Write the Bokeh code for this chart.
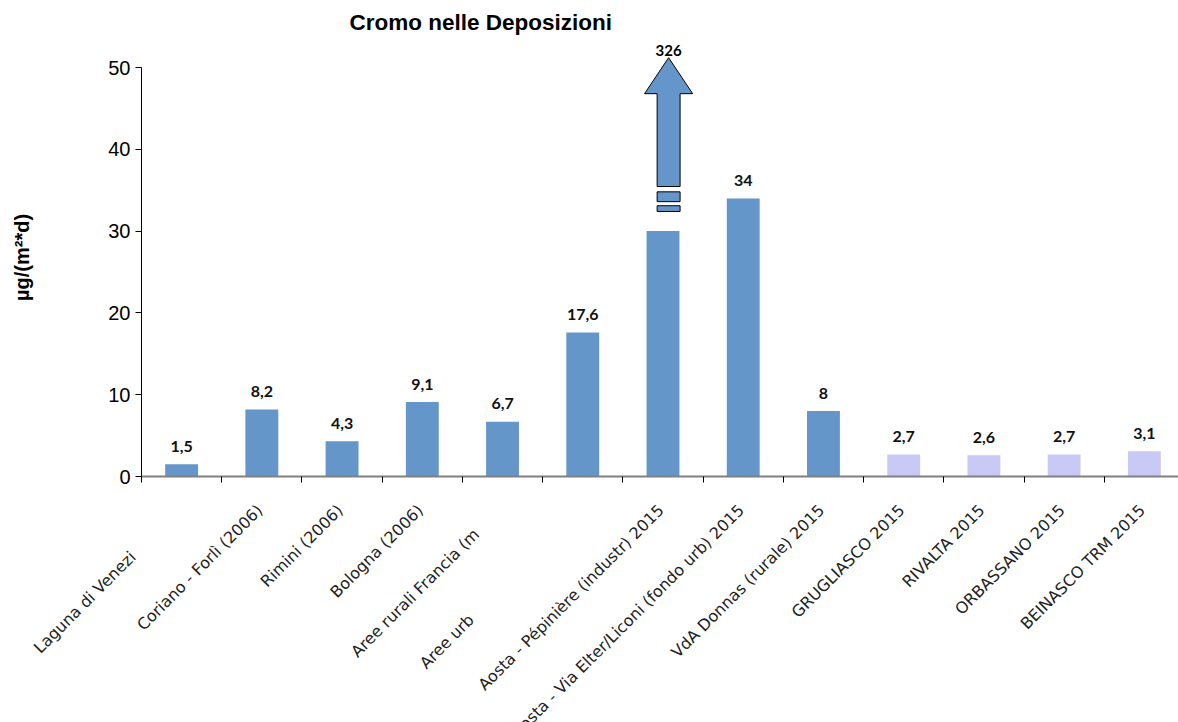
import math
from bokeh.plotting import figure
from bokeh.layouts import column
from bokeh.models import FixedTicker, Range1d
from bokeh.core.properties import value
from bokeh.embed import file_html
from bokeh.resources import INLINE

# ---- data -------------------------------------------------------------
sites = ["Laguna di Venezi", "Coriano - Forlì (2006)", "Rimini (2006)", "Bologna (2006)",
         "Aree rurali Francia (m", "Aree urb", "Aosta - Pépinière (industr) 2015",
         "Aosta - Via Elter/Liconi (fondo urb) 2015", "VdA Donnas (rurale) 2015",
         "GRUGLIASCO 2015", "RIVALTA 2015", "ORBASSANO 2015", "BEINASCO TRM 2015"]
chromium = [1.5, 8.2, 4.3, 9.1, 6.7, 17.6, 326, 34, 8, 2.7, 2.6, 2.7, 3.1]
is_2015_to = [False] * 9 + [True] * 4
y_ticks = [0, 10, 20, 30, 40, 50]
broken_bar_top = 30          # the off-scale bar is cut here
title_text = "Cromo nelle Deposizioni"
y_label = "µg/(m²*d)"

# style: how far (px, along the text) each clipped category label is pushed back
label_pushback = [66, 0, 0, 0, 34, 155, 0, 0, 0, 0, 0, 0, 0]

# ---- derived ----------------------------------------------------------
n = len(sites)
centers = [i + 1 for i in range(n)]
bounds = [i + 0.5 for i in range(n + 1)]
heights = [min(v, broken_bar_top) if v > 50 else v for v in chromium]
colors = ["#C9C9F6" if t else "#6596C9" for t in is_2015_to]
labels = [f"{v:g}".replace(".", ",") for v in chromium]
normal_idx = [i for i, v in enumerate(chromium) if v <= 50]
broken_idx = [i for i, v in enumerate(chromium) if v > 50]

px_per_cat = 80.23
px_per_unit = 8.18
W, H = 1178, 722
left, top = 141, 38
zero_y = 476                 # page row of the value 0
axis_band = 14               # room under the axis in the main figure
frame_w = W - left
frame_h = zero_y - top
x0 = 0.5

# ---- main chart -------------------------------------------------------
p = figure(width=W, height=zero_y + axis_band,
           x_range=Range1d(x0, x0 + frame_w / px_per_cat),
           y_range=Range1d(0, frame_h / px_per_unit),
           output_backend="svg", toolbar_location=None,
           min_border_left=left, min_border_right=0,
           min_border_top=top, min_border_bottom=axis_band)
p.frame_align = False
p.outline_line_color = None
p.xgrid.grid_line_color = None
p.ygrid.grid_line_color = None
p.background_fill_color = "white"
p.border_fill_color = "white"

p.title.text = title_text
p.title.align = "left"
p.title.offset = 208
p.title.text_font = "Liberation Sans"
p.title.text_font_style = "bold"
p.title.text_font_size = "22.5px"
p.title.text_color = "black"
p.title.standoff = 8

p.vbar(x=centers, top=heights, width=0.41, fill_color=colors, line_color=None)

for i in broken_idx:
    c = centers[i] + 0.07
    hs, hh = 0.143, 0.30
    b0, base, tip = 35.45, 46.8, 51.2
    p.patch([c - hs, c - hs, c - hh, c, c + hh, c + hs, c + hs],
            [b0, base, base, tip, base, base, b0],
            fill_color="#6596C9", line_color="black", line_width=1)
    p.quad(left=[c - hs, c - hs], right=[c + hs, c + hs],
           bottom=[33.6, 32.4], top=[34.8, 33.1],
           fill_color="#6596C9", line_color="black", line_width=1)
    p.text(x=[c], y=[tip], text=[labels[i]], text_align="center",
           text_baseline="alphabetic", y_offset=-7,
           text_font=value("Lato"), text_font_style="bold", text_font_size="15px",
           text_color="black")

p.text(x=[centers[i] for i in normal_idx], y=[heights[i] for i in normal_idx],
       text=[labels[i] for i in normal_idx], text_align="center",
       text_baseline="alphabetic", y_offset=-18,
       text_font=value("Lato"), text_font_style="bold", text_font_size="16px",
       text_color="#111111")

xa = p.xaxis[0]
xa.ticker = FixedTicker(ticks=centers, minor_ticks=bounds)
xa.major_label_overrides = {c: "" for c in centers}
xa.major_label_text_font_size = "1px"
xa.major_label_standoff = 0
xa.major_tick_out = 0
xa.major_tick_in = 0
xa.minor_tick_out = 6
xa.minor_tick_in = 0
xa.minor_tick_line_color = "black"
xa.axis_line_color = "#808080"
xa.axis_line_width = 2

ya = p.yaxis[0]
ya.ticker = FixedTicker(ticks=y_ticks)
ya.bounds = (0, 50)
ya.minor_tick_line_color = None
ya.major_tick_out = 6
ya.major_tick_in = 0
ya.axis_line_color = "black"
ya.major_tick_line_color = "black"
ya.major_label_text_font = "Liberation Sans"
ya.major_label_text_font_size = "20px"
ya.major_label_text_color = "black"
ya.major_label_standoff = 5
ya.axis_label = y_label
ya.axis_label_text_font = "Liberation Sans"
ya.axis_label_text_font_style = "bold"
ya.axis_label_text_font_size = "20px"
ya.axis_label_text_color = "black"
ya.axis_label_standoff = 72

# ---- category-name strip under the chart (same x scale) ---------------
strip_h = H - zero_y - axis_band
xs0 = x0 - left / px_per_cat
q = figure(width=W, height=strip_h,
           x_range=Range1d(xs0, xs0 + W / px_per_cat),
           y_range=Range1d(-(H - zero_y) / px_per_unit, -axis_band / px_per_unit),
           output_backend="svg", toolbar_location=None,
           min_border=0)
q.frame_align = False
q.outline_line_color = None
q.xaxis.visible = False
q.yaxis.visible = False
q.xgrid.grid_line_color = None
q.ygrid.grid_line_color = None
q.background_fill_color = "white"
q.border_fill_color = "white"

diag = math.sqrt(0.5)
label_y = -31 / px_per_unit
q.text(x=centers, y=[label_y] * n, text=sites,
       x_offset=[-2 - d * diag for d in label_pushback],
       y_offset=[d * diag for d in label_pushback],
       angle=math.pi / 4, text_align="right", text_baseline="middle",
       text_font=value("DejaVu Sans"), text_font_size="16px",
       text_color="#222222")

open("out.html", "w").write(file_html(column(p, q, spacing=0), INLINE))
